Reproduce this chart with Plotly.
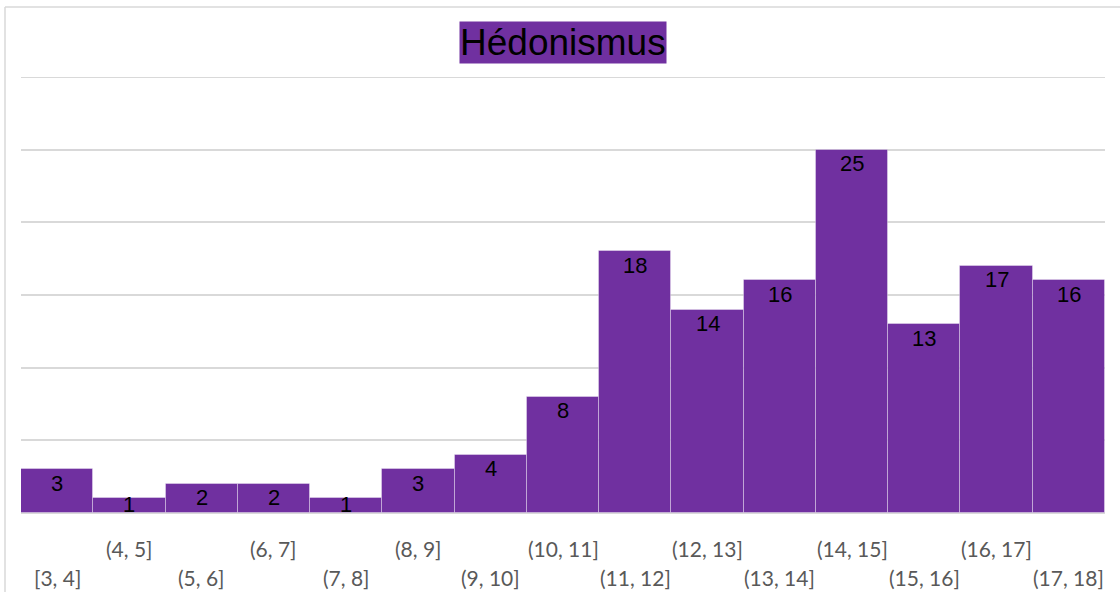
import plotly.graph_objects as go

categories = ["[3, 4]", "(4, 5]", "(5, 6]", "(6, 7]", "(7, 8]", "(8, 9]", "(9, 10]",
              "(10, 11]", "(11, 12]", "(12, 13]", "(13, 14]", "(14, 15]", "(15, 16]",
              "(16, 17]", "(17, 18]"]
counts = [3, 1, 2, 2, 1, 3, 4, 8, 18, 14, 16, 25, 13, 17, 16]
title_text = "Hédonismus"
y_max = 30

W, H = 1120, 599
L, R, T, B = 21, 15, 77, 86
pw, ph = W - L - R, H - T - B

fig = go.Figure()
fig.add_trace(go.Bar(
    x=categories, y=counts,
    marker=dict(color="#7030A0", line=dict(color="rgba(255,255,255,0.35)", width=1)),
    width=1.0, hoverinfo="x+y",
))

annotations = []
for i, (c, v) in enumerate(zip(categories, counts)):
    annotations.append(dict(
        x=c, y=v, xref="x", yref="y", text=str(v), showarrow=False,
        yanchor="middle", yshift=-14 if v >= 2 else -6,
        font=dict(family="Liberation Sans, Arial", size=22, color="#000000"),
    ))
    row_y = -35 if i % 2 == 1 else -64
    annotations.append(dict(
        x=c, y=0, xref="x", yref="y", text=c, showarrow=False,
        yanchor="middle", yshift=row_y,
        font=dict(family="Lato, Open Sans, sans-serif", size=21, color="#595959"),
    ))

annotations.append(dict(
    x=0.5, xref="paper", y=1 + (T - 43) / ph, yref="paper", text=title_text,
    showarrow=False, yanchor="middle", xanchor="center",
    font=dict(family="Liberation Sans, Arial", size=37, color="#000000"),
    bgcolor="#7030A0", borderpad=0,
))

shapes = [
    dict(type="line", xref="paper", yref="paper",
         x0=(5 - L) / pw, x1=(W + 5 - L) / pw, y0=1 + (T - 7) / ph, y1=1 + (T - 7) / ph,
         line=dict(color="#D9D9D9", width=1.5)),
    dict(type="line", xref="paper", yref="paper",
         x0=(5 - L) / pw, x1=(5 - L) / pw, y0=1 + (T - 7) / ph, y1=-(592 - (T + ph)) / ph,
         line=dict(color="#D9D9D9", width=1.5)),
    dict(type="line", xref="paper", yref="y", x0=0, x1=1, y0=y_max, y1=y_max,
         line=dict(color="#D9D9D9", width=2), layer="below"),
]

fig.update_layout(
    width=W, height=H, autosize=False,
    margin=dict(l=L, r=R, t=T, b=B),
    paper_bgcolor="white", plot_bgcolor="white",
    showlegend=False, bargap=0,
    annotations=annotations, shapes=shapes,
    xaxis=dict(showticklabels=False, showgrid=False, zeroline=False, showline=False,
               range=[-0.5, len(categories) - 0.5]),
    yaxis=dict(range=[0, y_max], tickvals=[0, 5, 10, 15, 20, 25, 30], showticklabels=False,
               showgrid=True, gridcolor="#D9D9D9", gridwidth=2, zeroline=True,
               zerolinecolor="#D9D9D9", zerolinewidth=2, showline=False),
)

fig.write_html("out.html", config={"displayModeBar": False},
               post_script="document.body.style.margin='0';document.body.style.overflow='hidden';")
